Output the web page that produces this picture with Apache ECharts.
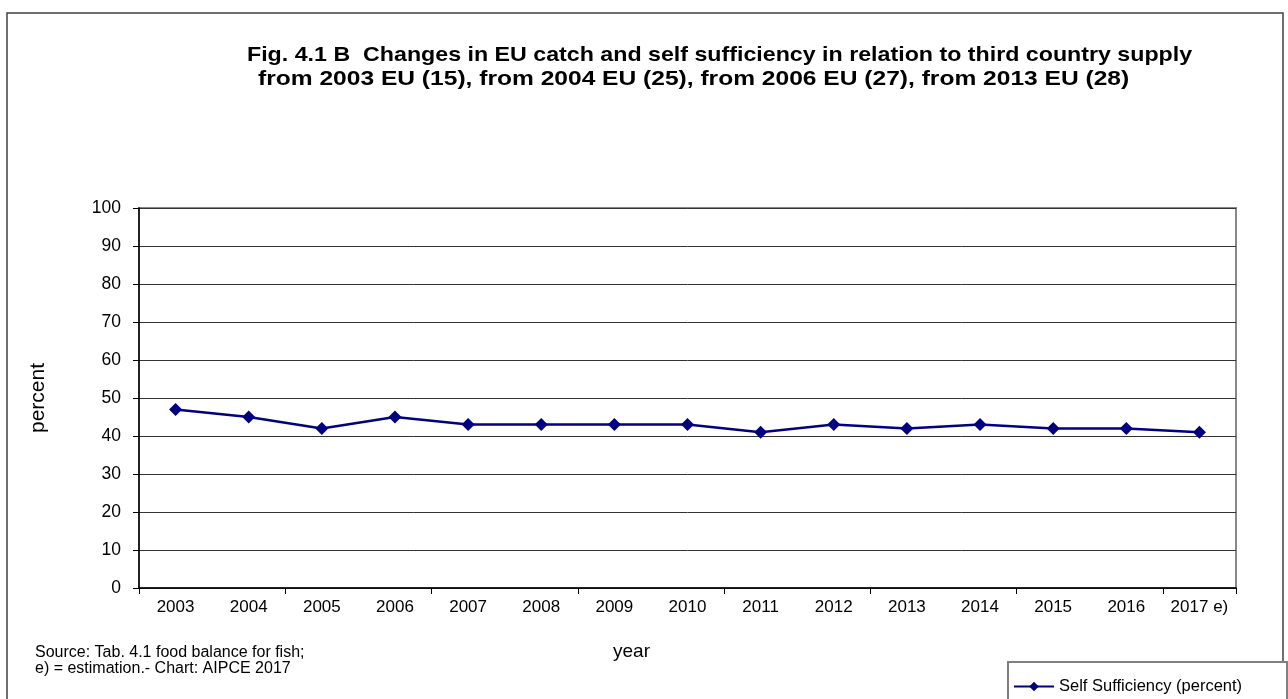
<!DOCTYPE html>
<html>
<head>
<meta charset="utf-8">
<script src="https://cdn.jsdelivr.net/npm/echarts@6/dist/echarts.min.js"></script>
<style>
  html, body { margin: 0; padding: 0; background: #ffffff; }
  #chart { width: 1288px; height: 699px; }
</style>
</head>
<body>
<div id="chart"></div>
<script>
// EU self sufficiency in fish supply, by year
const years = ['2003', '2004', '2005', '2006', '2007', '2008', '2009', '2010',
               '2011', '2012', '2013', '2014', '2015', '2016', '2017 e)'];
const selfSufficiency = [47, 45, 42, 45, 43, 43, 43, 43, 41, 43, 42, 43, 42, 42, 41];
const seriesName = 'Self Sufficiency (percent)';
const titleLine1 = 'Fig. 4.1 B  Changes in EU catch and self sufficiency in relation to third country supply';
const titleLine2 = 'from 2003 EU (15), from 2004 EU (25), from 2006 EU (27), from 2013 EU (28)';
const sourceNote = 'Source: Tab. 4.1 food balance for fish;\ne) = estimation.- Chart: AIPCE 2017';
const xAxisName = 'year';
const yAxisName = 'percent';

const font = 'Liberation Sans, Arial, sans-serif';
const chart = echarts.init(document.getElementById('chart'), null, { renderer: 'canvas' });

// wide bold heading text, stretched horizontally from its left edge
function headingLine(text, x, y, scaleX) {
  return {
    type: 'text', x: x, y: y, scaleX: scaleX, scaleY: 1,
    style: { text: text, fontFamily: font, fontSize: 21, fontWeight: 'bold',
             fill: '#000', textAlign: 'left', textVerticalAlign: 'middle' },
    z: 5
  };
}

chart.setOption({
  backgroundColor: '#ffffff',
  animation: false,
  textStyle: { fontFamily: font },
  graphic: [
    // outer frame
    { type: 'rect', shape: { x: 7, y: 13, width: 1276, height: 720 },
      style: { fill: 'none', stroke: '#404040', lineWidth: 1.5 }, z: 0 },
    // heading
    headingLine(titleLine1, 247, 55, 1.105),
    headingLine(titleLine2, 258, 79, 1.17),
    // legend frame
    { type: 'rect', shape: { x: 1008, y: 662, width: 279, height: 60 },
      style: { fill: '#ffffff', stroke: '#808080', lineWidth: 2 }, z: 1 },
    // source note
    { type: 'text', left: 35, top: 644,
      style: { text: sourceNote, fontFamily: font, fontSize: 16, lineHeight: 16.5, fill: '#000' } },
    // x axis name
    { type: 'text', left: 613, top: 642,
      style: { text: xAxisName, fontFamily: font, fontSize: 19, fill: '#000' } }
  ],
  legend: {
    data: [seriesName],
    left: 1008, top: 673,
    itemWidth: 40, itemHeight: 12, itemGap: 6,
    textStyle: { fontFamily: font, fontSize: 16.5, color: '#000' },
    z: 5
  },
  grid: { left: 139, top: 208, width: 1097, height: 380, containLabel: false,
          show: true, borderColor: '#888888', borderWidth: 2, backgroundColor: 'transparent' },
  xAxis: {
    type: 'category',
    data: years,
    boundaryGap: true,
    axisLine: { lineStyle: { color: '#000', width: 1.5 } },
    axisTick: { show: true, interval: 1, length: 6, lineStyle: { color: '#000' } },
    axisLabel: { interval: 0, fontFamily: font, fontSize: 17, color: '#000', margin: 11 },
    splitLine: { show: false }
  },
  yAxis: {
    type: 'value',
    min: 0, max: 100, interval: 10,
    name: yAxisName,
    nameLocation: 'middle',
    nameGap: 90,
    nameRotate: 90,
    nameTextStyle: { fontFamily: font, fontSize: 21, color: '#000' },
    axisLine: { show: true, lineStyle: { color: '#000', width: 1.5 } },
    axisTick: { show: true, length: 6, lineStyle: { color: '#000' } },
    axisLabel: { fontFamily: font, fontSize: 17.5, color: '#000', margin: 18 },
    splitLine: { show: true, lineStyle: { color: '#333333', width: 1 } }
  },
  series: [{
    name: seriesName,
    type: 'line',
    data: selfSufficiency,
    symbol: 'diamond',
    symbolSize: 13,
    itemStyle: { color: '#000080' },
    lineStyle: { color: '#000080', width: 2.5 },
    z: 3
  }]
});
</script>
</body>
</html>
